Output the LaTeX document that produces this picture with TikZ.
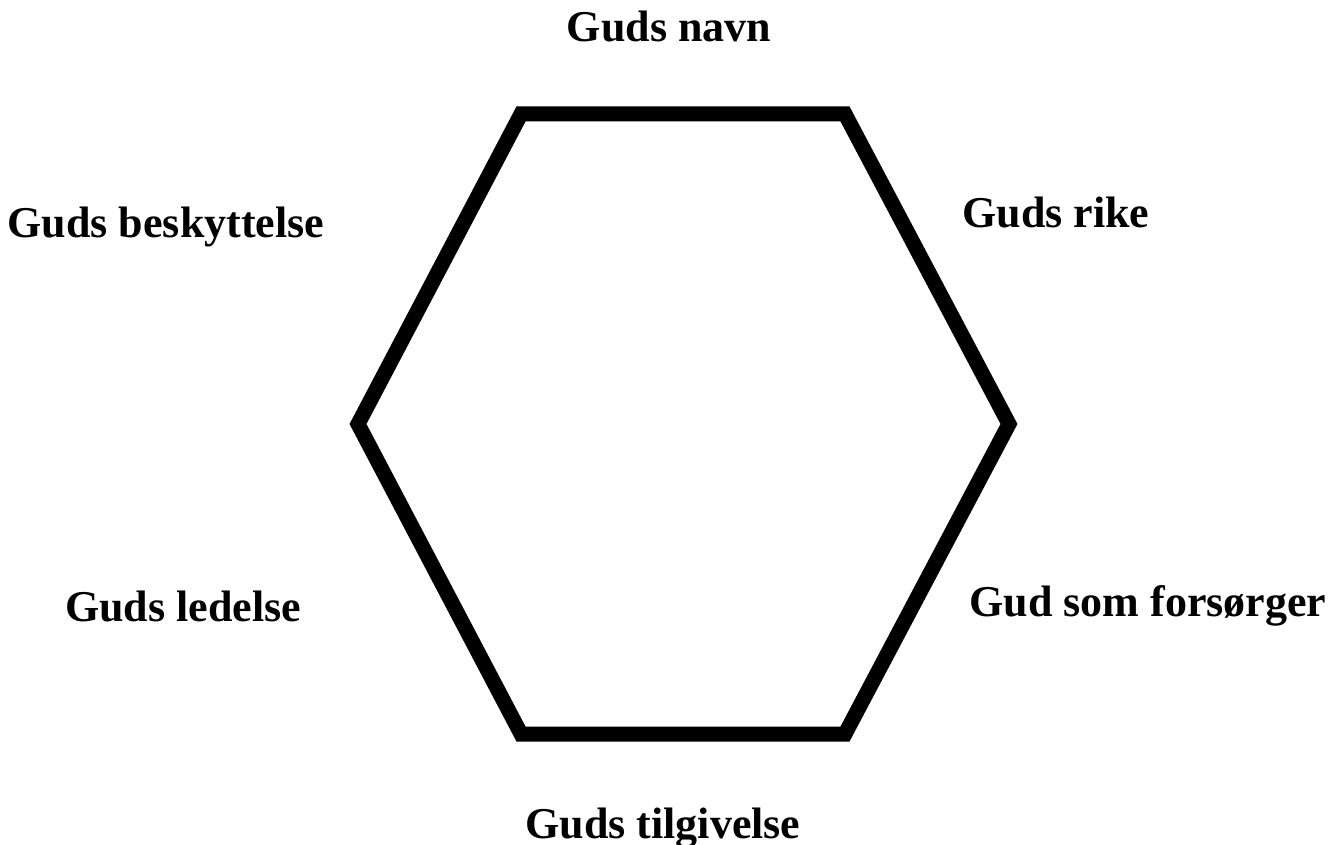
\documentclass[tikz,border=0pt]{standalone}
\usepackage{fontspec}
\setmainfont{Liberation Serif}

\begin{document}
\begin{tikzpicture}[
  x=0.5pt, y=-0.5pt,
  hexline/.style={draw, line width=7.5pt, miter limit=10},
  lbl/.style={font=\fontsize{22}{26}\selectfont\bfseries, anchor=base, inner sep=0pt},
]

  \useasboundingbox (0,0) rectangle (1330,845);

  % --- Hexagon corners ---
  \coordinate (tl) at (521,114);
  \coordinate (tr) at (845,114);
  \coordinate (rt) at (1009,424);
  \coordinate (br) at (845,734);
  \coordinate (bl) at (521,734);
  \coordinate (lt) at (358,424);

  \draw[hexline] (tl) -- (tr) -- (rt) -- (br) -- (bl) -- (lt) -- cycle;

  % --- Labels ---
  \node[lbl] (navn)      at (669,42)   {Guds navn};
  \node[lbl] (rike)      at (1056,228) {Guds rike};
  \node[lbl] (beskyt)    at (166,238)  {Guds beskyttelse};
  \node[lbl] (ledelse)   at (183,622)  {Guds ledelse};
  \node[lbl] (forsorger) at (1148,617) {Gud som forsørger};
  \node[lbl] (tilgiv)    at (663,838)  {Guds tilgivelse};

\end{tikzpicture}
\end{document}
